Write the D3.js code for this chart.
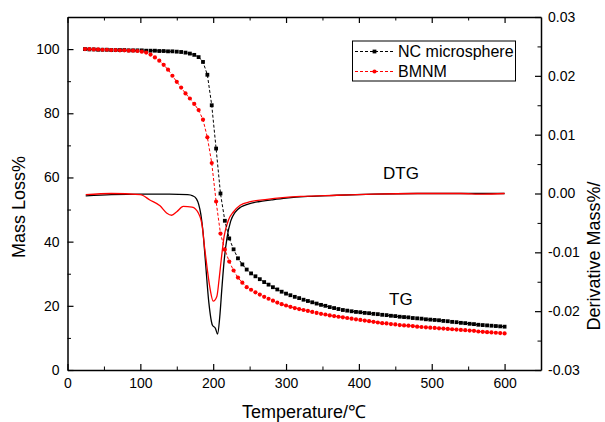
<!DOCTYPE html>
<html>
<head>
<meta charset="utf-8">
<script src="https://cdn.jsdelivr.net/npm/d3@7"></script>
<style>
  body { margin: 0; background: #fff; }
  text { font-family: "Liberation Sans", Arial, sans-serif; fill: #000; }
</style>
</head>
<body>
<div id="chart"></div>
<script>
// TG data (left axis, Mass Loss %)
let temps = [24,30,36,42,48,54,60,66,72,78,84,90,96,102,108,114,120,126,132,138,
  144,150,156,162,168,174,180,186,192,198,204,210,216,222,228,234,240,246,252,258,
  264,270,276,282,288,294,300,306,312,318,324,330,336,342,348,354,360,366,372,378,
  384,390,396,402,408,414,420,426,432,438,444,450,456,462,468,474,480,486,492,498,
  504,510,516,522,528,534,540,546,552,558,564,570,576,582,588,594,600];

let nc_tg = [100.0,99.9,99.9,99.8,99.8,99.8,99.7,99.7,99.7,99.7,
  99.6,99.6,99.6,99.6,99.5,99.5,99.5,99.4,99.4,99.3,
  99.3,99.2,99.1,98.9,98.6,98.2,97.5,96.0,92.0,82.5,
  69.0,55.0,46.5,41.0,37.6,34.8,32.9,31.3,30.1,29.2,
  28.3,27.4,26.6,25.8,25.1,24.4,23.8,23.3,22.8,22.4,
  21.9,21.5,21.1,20.7,20.3,20.0,19.6,19.3,19.0,18.7,
  18.5,18.3,18.1,18.0,17.8,17.7,17.5,17.4,17.2,17.1,
  16.9,16.8,16.6,16.5,16.4,16.2,16.1,16.0,15.8,15.7,
  15.6,15.5,15.3,15.2,15.0,14.9,14.7,14.6,14.4,14.3,
  14.1,14.0,13.9,13.8,13.7,13.6,13.5];

let bm_tg = [100.0,100.0,99.9,99.9,99.8,99.8,99.7,99.7,99.6,99.6,
  99.5,99.5,99.4,99.2,98.9,98.3,97.4,96.4,95.1,93.6,
  91.7,89.8,88.0,86.2,84.6,82.9,81.0,78.0,72.5,64.5,
  52.5,42.5,37.5,33.8,31.0,28.8,27.2,25.8,25.0,24.2,
  23.5,22.8,22.2,21.6,21.0,20.5,20.1,19.7,19.3,19.0,
  18.7,18.4,18.1,17.8,17.5,17.3,17.0,16.8,16.6,16.4,
  16.2,16.0,15.8,15.6,15.4,15.2,15.0,14.8,14.6,14.5,
  14.3,14.2,14.0,13.9,13.8,13.7,13.5,13.4,13.3,13.2,
  13.1,13.0,12.9,12.8,12.7,12.6,12.5,12.4,12.3,12.2,
  12.0,11.9,11.8,11.7,11.6,11.5,11.4];

// DTG data (right axis)
let nc_dtg_t = [25,60,100,140,165,172,177,180,183,186,189,194,199,203,206,209,212,215,219,224,
  230,238,248,262,280,300,330,370,420,480,540,600];
let nc_dtg = [-0.0004,-0.0002,-0.0001,-0.0001,-0.0002,-0.0004,-0.0009,-0.0018,-0.0035,-0.0065,
  -0.0110,-0.0185,-0.0224,-0.0229,-0.0239,-0.0210,-0.0160,-0.0115,-0.0075,-0.0047,
  -0.0032,-0.0023,-0.0018,-0.0014,-0.0011,-0.0008,-0.0005,-0.0003,-0.0001,0.0000,0.0000,0.0000];

let bm_dtg_t = [25,60,100,113,127,136,143,150,159,171,180,185,188,192,196,200,205,208,211,215,
  221,228,237,251,274,320,370,420,480,540,570,600];
let bm_dtg = [-0.0002,0.0000,-0.0002,-0.0011,-0.0021,-0.0033,-0.0037,-0.0031,-0.0022,-0.0023,
  -0.0034,-0.0056,-0.0090,-0.0130,-0.0164,-0.0183,-0.0175,-0.0147,-0.0113,-0.0073,
  -0.0045,-0.0031,-0.0020,-0.0014,-0.0010,-0.0005,-0.0003,-0.0001,0.0000,0.0000,-0.0001,0.0000];

// Tick values
let x_major = [0,100,200,300,400,500,600];
let x_minor = [50,150,250,350,450,550];
let yl_major = [0,20,40,60,80,100];
let yl_minor = [10,30,50,70,90];
let yr_major = [-0.03,-0.02,-0.01,0,0.01,0.02,0.03];
let yr_minor = [-0.025,-0.015,-0.005,0.005,0.015,0.025];

let chart_width = 605;
let chart_height = 422;
let plot_left = 67.5, plot_right = 541, plot_top = 17, plot_bottom = 370;

let svg = d3.select('#chart')
    .append('svg')
    .attr('width', chart_width)
    .attr('height', chart_height);

let x_scale = d3.scaleLinear().domain([0, 650]).range([plot_left, plot_right]);
let yl_scale = d3.scaleLinear().domain([0, 110]).range([plot_bottom, plot_top]);
let yr_scale = d3.scaleLinear().domain([-0.03, 0.03]).range([plot_bottom, plot_top]);

// Axes (ticks pointing inward)
function styleAxis(g) {
    g.selectAll('.domain').attr('stroke-width', 1.5);
    g.selectAll('.tick line').attr('stroke-width', 1.2);
    g.selectAll('text').attr('font-size', 14).attr('fill', '#000');
}

svg.append('g').attr('transform', 'translate(0,' + plot_bottom + ')')
    .call(d3.axisBottom(x_scale).tickValues(x_major).tickSizeInner(-6).tickSizeOuter(0).tickPadding(8))
    .call(styleAxis);
svg.append('g').attr('transform', 'translate(0,' + plot_bottom + ')')
    .call(d3.axisBottom(x_scale).tickValues(x_minor).tickSize(-3.5).tickFormat(''))
    .call(g => g.select('.domain').remove());

svg.append('g').attr('transform', 'translate(0,' + plot_top + ')')
    .call(d3.axisTop(x_scale).tickValues(x_major).tickSizeInner(-6).tickSizeOuter(0).tickFormat(''))
    .call(styleAxis);
svg.append('g').attr('transform', 'translate(0,' + plot_top + ')')
    .call(d3.axisTop(x_scale).tickValues(x_minor).tickSize(-3.5).tickFormat(''))
    .call(g => g.select('.domain').remove());

svg.append('g').attr('transform', 'translate(' + plot_left + ',0)')
    .call(d3.axisLeft(yl_scale).tickValues(yl_major).tickSizeInner(-6).tickSizeOuter(0).tickPadding(8))
    .call(styleAxis);
svg.append('g').attr('transform', 'translate(' + plot_left + ',0)')
    .call(d3.axisLeft(yl_scale).tickValues(yl_minor).tickSize(-3.5).tickFormat(''))
    .call(g => g.select('.domain').remove());

svg.append('g').attr('transform', 'translate(' + plot_right + ',0)')
    .call(d3.axisRight(yr_scale).tickValues(yr_major).tickSizeInner(-6).tickSizeOuter(0).tickPadding(7)
        .tickFormat(d => d.toFixed(2)))
    .call(styleAxis);
svg.append('g').attr('transform', 'translate(' + plot_right + ',0)')
    .call(d3.axisRight(yr_scale).tickValues(yr_minor).tickSize(-3.5).tickFormat(''))
    .call(g => g.select('.domain').remove());

svg.selectAll('.tick line').attr('stroke', '#000');
svg.selectAll('.domain').attr('stroke', '#000');

// DTG solid lines
let dtg_line = function(ts) {
    return d3.line()
        .x((d, i) => x_scale(ts[i]))
        .y(d => yr_scale(d))
        .curve(d3.curveMonotoneX);
};

svg.append('path').datum(nc_dtg)
    .attr('d', dtg_line(nc_dtg_t))
    .attr('fill', 'none').attr('stroke', '#000').attr('stroke-width', 1.3);

svg.append('path').datum(bm_dtg)
    .attr('d', dtg_line(bm_dtg_t))
    .attr('fill', 'none').attr('stroke', '#ff0000').attr('stroke-width', 1.3);

// TG dashed lines with markers
let tg_line = d3.line()
    .x((d, i) => x_scale(temps[i]))
    .y(d => yl_scale(d));

svg.append('path').datum(nc_tg)
    .attr('d', tg_line)
    .attr('fill', 'none').attr('stroke', '#000').attr('stroke-width', 1)
    .attr('stroke-dasharray', '3,2');

svg.append('path').datum(bm_tg)
    .attr('d', tg_line)
    .attr('fill', 'none').attr('stroke', '#ff0000').attr('stroke-width', 1)
    .attr('stroke-dasharray', '3,2');

svg.append('g').selectAll('rect')
    .data(nc_tg)
    .enter()
    .append('rect')
    .attr('x', (d, i) => x_scale(temps[i]) - 1.9)
    .attr('y', d => yl_scale(d) - 1.9)
    .attr('width', 3.8)
    .attr('height', 3.8)
    .attr('fill', '#000');

svg.append('g').selectAll('circle')
    .data(bm_tg)
    .enter()
    .append('circle')
    .attr('cx', (d, i) => x_scale(temps[i]))
    .attr('cy', d => yl_scale(d))
    .attr('r', 2.1)
    .attr('fill', '#ff0000');

// Curve labels
svg.append('text').attr('x', 383).attr('y', 179).attr('font-size', 17).text('DTG');
svg.append('text').attr('x', 389).attr('y', 305).attr('font-size', 17).text('TG');

// Legend
let legend = svg.append('g');
legend.append('rect')
    .attr('x', 352.5).attr('y', 41).attr('width', 163).attr('height', 40)
    .attr('fill', '#fff').attr('stroke', '#000').attr('stroke-width', 1);

let legend_items = [
    { name: 'NC microsphere', color: '#000', shape: 'square', y: 51.5 },
    { name: 'BMNM', color: '#ff0000', shape: 'circle', y: 71.5 }
];

legend_items.forEach(function(it) {
    legend.append('line')
        .attr('x1', 355).attr('x2', 394).attr('y1', it.y).attr('y2', it.y)
        .attr('stroke', it.color).attr('stroke-width', 1).attr('stroke-dasharray', '3,2');
    if (it.shape === 'square') {
        legend.append('rect').attr('x', 372.6).attr('y', it.y - 1.9)
            .attr('width', 3.8).attr('height', 3.8).attr('fill', it.color);
    } else {
        legend.append('circle').attr('cx', 374.5).attr('cy', it.y).attr('r', 2.1).attr('fill', it.color);
    }
    legend.append('text')
        .attr('x', 398).attr('y', it.y + 5.5)
        .attr('font-size', 16)
        .text(it.name);
});

// Axis titles
svg.append('text')
    .attr('x', 304).attr('y', 418)
    .attr('text-anchor', 'middle')
    .attr('font-size', 18)
    .text('Temperature/℃');

svg.append('text')
    .attr('transform', 'translate(25,207) rotate(-90)')
    .attr('text-anchor', 'middle')
    .attr('font-size', 18)
    .text('Mass Loss%');

svg.append('text')
    .attr('transform', 'translate(600,256) rotate(-90)')
    .attr('text-anchor', 'middle')
    .attr('font-size', 18)
    .text('Derivative Mass%/');
</script>
</body>
</html>
